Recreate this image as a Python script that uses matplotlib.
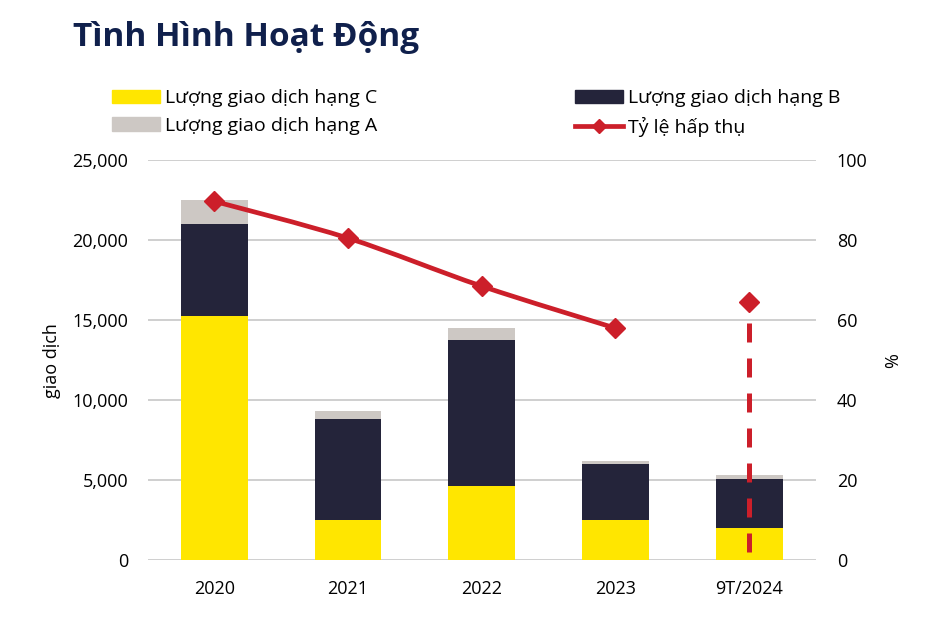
import numpy as np
import matplotlib
matplotlib.use("Agg")
import matplotlib.pyplot as plt
from matplotlib.path import Path
from matplotlib.patches import PathPatch, Patch
from matplotlib.lines import Line2D

plt.rcParams["font.family"] = ["Open Sans", "DejaVu Sans"]

# ---- data ----
years = ["2020", "2021", "2022", "2023", "9T/2024"]
grade_c = [15250, 2500, 4620, 2500, 1980]
grade_b = [5750, 6350, 9130, 3540, 3120]
grade_a = [1500, 480, 750, 160, 230]
absorption = [89.7, 80.5, 68.5, 58.0, 64.5]   # %
n_solid = 4          # first four points joined by the smooth line
drop_from = 2.0      # dashed drop line for the last point starts here (%)

YELLOW = "#ffe600"
NAVY = "#24243a"
GREY = "#cdc8c4"
RED = "#cc1f2a"
TITLE = "#10204c"


def smooth_path(xs, ys, t=0.5 / 3):
    # Catmull-Rom style bezier through the points (like Excel's smoothed line)
    pts = np.column_stack([xs, ys])
    verts, codes = [pts[0]], [Path.MOVETO]
    for i in range(len(pts) - 1):
        p0 = pts[max(i - 1, 0)]
        p1, p2 = pts[i], pts[i + 1]
        p3 = pts[min(i + 2, len(pts) - 1)]
        verts += [p1 + (p2 - p0) * t, p2 - (p3 - p1) * t, p2]
        codes += [Path.CURVE4] * 3
    return Path(verts, codes)


fig = plt.figure(figsize=(9.4, 6.28), dpi=100)
ax = fig.add_axes([0.157, 0.108, 0.711, 0.637])
x = np.arange(len(years))
w = 0.5

c = np.array(grade_c); b = np.array(grade_b); a = np.array(grade_a)
ax.bar(x, c, w, color=YELLOW, zorder=2)
ax.bar(x, b, w, bottom=c, color=NAVY, zorder=2)
ax.bar(x, a, w, bottom=c + b, color=GREY, zorder=2)

ax.set_xlim(-0.5, len(years) - 0.5)
ax.set_ylim(0, 25000)
ax.set_yticks(np.arange(0, 25001, 5000))
ax.set_yticklabels([f"{v:,}" for v in range(0, 25001, 5000)])
ax.set_xticks(x)
ax.set_xticklabels(years)
ax.grid(axis="y", color="#cccccc", lw=1.3, zorder=0)
ax.set_axisbelow(True)
for s in ax.spines.values():
    s.set_visible(False)
ax.tick_params(length=0, labelsize=13, pad=14)
ax.tick_params(axis="x", pad=14)
ax.set_ylabel("giao dịch", fontsize=13, labelpad=8)

ax2 = ax.twinx()
ax2.set_ylim(0, 100)
ax2.set_yticks(np.arange(0, 101, 20))
for s in ax2.spines.values():
    s.set_visible(False)
ax2.tick_params(length=0, labelsize=13, pad=15)
ax2.set_ylabel("%", fontsize=13, labelpad=12)

path = smooth_path(x[:n_solid].astype(float), absorption[:n_solid])
ax2.add_patch(PathPatch(path, fill=False, edgecolor=RED, lw=3.4, zorder=3))
ax2.plot(x[:n_solid], absorption[:n_solid], ls="none", marker="D", ms=10.5,
         color=RED, zorder=4)
ax2.plot([x[-1], x[-1]], [drop_from, absorption[-1]], color=RED, lw=3.6,
         dashes=(3.8, 3.2), zorder=3)
ax2.plot(x[-1], absorption[-1], ls="none", marker="D", ms=10.5, color=RED, zorder=4)

fig.text(0.078, 0.927, "Tình Hình Hoạt Động", fontsize=24, fontweight="bold",
         color=TITLE, va="baseline")

leg_kw = dict(frameon=False, fontsize=14, handlelength=2.47, handleheight=0.67,
              handletextpad=0.26, labelspacing=0.5, borderaxespad=0, borderpad=0)
h_c = Patch(color=YELLOW)
h_a = Patch(color=GREY)
h_b = Patch(color=NAVY)
h_l = Line2D([], [], color=RED, lw=3.4, marker="D", ms=7)
fig.legend([h_c, h_a], ["Lượng giao dịch hạng C", "Lượng giao dịch hạng A"],
           loc="upper left", bbox_to_anchor=(0.119, 0.858), **leg_kw)
fig.legend([h_b, h_l], ["Lượng giao dịch hạng B", "Tỷ lệ hấp thụ"],
           loc="upper left", bbox_to_anchor=(0.612, 0.858), **leg_kw)

fig.savefig("out.png", dpi=100)
